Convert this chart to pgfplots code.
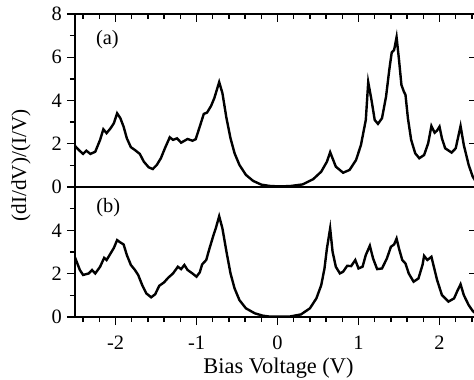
\documentclass[border=0pt]{standalone}
\usepackage{pgfplots}
\pgfplotsset{compat=1.18}
\usepackage{fontspec}
\setmainfont{Liberation Serif}
\newcommand\f{\fontsize{10.2}{12}\selectfont}
\begin{document}
\begin{tikzpicture}
\pgfplotsset{
  common/.style={
    scale only axis, width=201pt, xmin=-2.5, xmax=2.463, ymin=0,
    anchor=south west,
    axis line style={line width=0.9pt},
    every tick/.style={line width=0.7pt, black},
    major tick length=4pt, minor tick length=2.6pt,
    tick label style={font=\f},
  },
  mx/.style={minor xtick={-2.4,-2.2,-1.8,-1.6,-1.4,-1.2,-0.8,-0.6,-0.4,-0.2,0.2,0.4,0.6,0.8,1.2,1.4,1.6,1.8,2.2,2.4}},
}
% ---- panel (a)
\begin{axis}[common, at={(0,65pt)}, height=86.5pt, ymax=8,
  tick align=outside, xtick=\empty, ytick pos=left,
  ytick={0,2,4,6,8}, yticklabels={0,2,4,6,8}, minor ytick={1,3,5,7},
  yticklabel style={inner sep=2.4pt}]
\addplot[black, line width=1.2pt] coordinates {
(-2.50,1.90) (-2.45,1.70) (-2.40,1.53) (-2.36,1.68) (-2.31,1.53) (-2.25,1.63) (-2.19,2.18) (-2.15,2.67) (-2.11,2.49) (-2.06,2.72) (-2.02,2.95) (-1.98,3.41) (-1.94,3.18) (-1.90,2.79) (-1.86,2.25) (-1.81,1.84) (-1.76,1.71) (-1.70,1.53) (-1.65,1.17) (-1.59,0.91) (-1.54,0.83) (-1.49,1.02) (-1.44,1.33) (-1.39,1.79) (-1.33,2.30) (-1.29,2.18) (-1.24,2.25) (-1.19,2.05) (-1.11,2.22) (-1.05,2.14) (-1.01,2.21) (-0.96,2.79) (-0.91,3.38) (-0.87,3.44) (-0.82,3.75) (-0.78,4.11) (-0.72,4.85) (-0.68,4.34) (-0.63,3.18) (-0.58,2.25) (-0.53,1.56) (-0.47,1.02) (-0.39,0.56) (-0.30,0.28) (-0.20,0.11) (-0.10,0.05) (0.00,0.03) (0.15,0.04) (0.31,0.12) (0.44,0.36) (0.54,0.71) (0.61,1.17) (0.65,1.61) (0.72,0.94) (0.81,0.66) (0.89,0.79) (0.97,1.25) (1.03,1.94) (1.09,3.10) (1.12,4.85) (1.16,4.03) (1.20,3.10) (1.24,2.92) (1.29,3.18) (1.34,4.18) (1.38,5.42) (1.41,6.22) (1.44,6.34) (1.47,6.93) (1.50,5.88) (1.53,4.72) (1.56,4.41) (1.58,4.26) (1.61,3.18) (1.65,2.18) (1.70,1.56) (1.75,1.33) (1.81,1.48) (1.86,2.02) (1.90,2.82) (1.94,2.51) (1.97,2.61) (2.00,2.79) (2.03,2.25) (2.07,1.79) (2.15,1.59) (2.20,1.79) (2.26,2.82) (2.30,1.94) (2.36,1.02) (2.41,0.48) (2.44,0.30)
};
\node[font=\f] at (axis cs:-2.10,6.8) {(a)};
\end{axis}
\begin{axis}[common, at={(0,65pt)}, height=86.5pt, ymax=8, mx,
  tick align=inside, xtick pos=right, ytick pos=right,
  xtick={-2,-1,0,1,2}, xticklabels={}, ytick={2,4,6}, yticklabels={}, minor ytick={}]
\end{axis}
% ---- panel (b)
\begin{axis}[common, at={(0,0)}, height=65pt, ymax=6, mx,
  tick align=outside, xtick pos=left, ytick pos=left,
  xtick={-2,-1,0,1,2}, xticklabels={-2,-1,0,1,2},
  ytick={0,2,4}, yticklabels={0,2,4}, minor ytick={1,3,5},
  yticklabel style={inner sep=2.4pt}, xticklabel style={yshift=-2pt}]
\addplot[black, line width=1.2pt] coordinates {
(-2.50,2.75) (-2.44,2.17) (-2.40,1.94) (-2.33,2.01) (-2.29,2.17) (-2.25,2.01) (-2.19,2.32) (-2.14,2.73) (-2.11,2.63) (-2.06,2.94) (-2.02,3.19) (-1.98,3.55) (-1.94,3.44) (-1.90,3.35) (-1.86,2.86) (-1.81,2.40) (-1.76,2.17) (-1.72,1.94) (-1.67,1.47) (-1.62,1.09) (-1.56,0.91) (-1.51,1.05) (-1.46,1.44) (-1.40,1.60) (-1.35,1.81) (-1.29,2.01) (-1.23,2.32) (-1.19,2.21) (-1.15,2.40) (-1.11,2.17) (-1.05,2.01) (-1.00,1.86) (-0.96,2.06) (-0.93,2.43) (-0.88,2.63) (-0.84,3.16) (-0.79,3.78) (-0.76,4.12) (-0.72,4.65) (-0.68,4.09) (-0.63,3.01) (-0.58,2.01) (-0.53,1.32) (-0.47,0.78) (-0.39,0.40) (-0.28,0.17) (-0.18,0.06) (-0.10,0.02) (0.15,0.02) (0.29,0.12) (0.40,0.40) (0.48,0.86) (0.54,1.47) (0.58,2.24) (0.61,3.16) (0.65,4.09) (0.68,3.01) (0.72,2.32) (0.77,2.01) (0.81,2.09) (0.86,2.36) (0.91,2.35) (0.96,2.63) (1.00,2.24) (1.05,2.32) (1.09,2.86) (1.14,3.29) (1.18,2.70) (1.23,2.21) (1.29,2.24) (1.35,2.70) (1.40,3.24) (1.44,3.35) (1.47,3.62) (1.50,3.16) (1.54,2.63) (1.58,2.47) (1.62,2.01) (1.68,1.63) (1.74,1.78) (1.79,2.40) (1.81,2.82) (1.85,2.63) (1.90,2.78) (1.93,2.32) (1.97,1.71) (2.03,1.01) (2.11,0.71) (2.18,0.86) (2.22,1.20) (2.26,1.51) (2.30,1.01) (2.36,0.55) (2.41,0.28) (2.44,0.18)
};
\node[font=\f] at (axis cs:-2.09,5.07) {(b)};
\end{axis}
\begin{axis}[common, at={(0,0)}, height=65pt, ymax=6,
  tick align=inside, xtick=\empty, ytick pos=right,
  ytick={2,4}, yticklabels={}, minor ytick={}]
\end{axis}
\node[font=\fontsize{10.6}{12}\selectfont, rotate=90] at (-27pt,75.75pt) {(dI/dV)/(I/V)};
\node[font=\fontsize{11.2}{13}\selectfont] at (101.75pt,-25.5pt) {Bias Voltage (V)};
\pgfresetboundingbox
\path[use as bounding box] (-37.5pt,-31pt) rectangle (199.5pt,158.5pt);
\end{tikzpicture}
\end{document}
